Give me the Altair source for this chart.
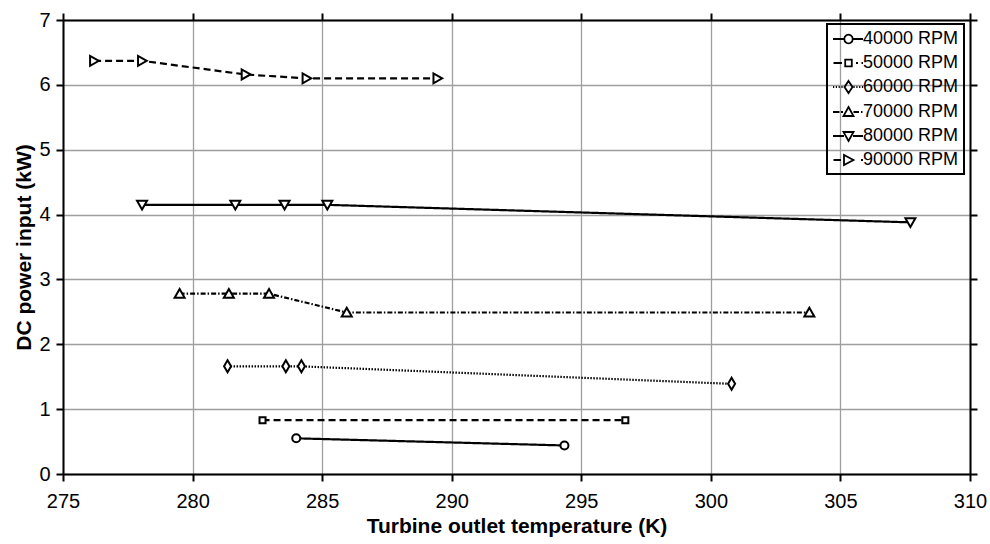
import altair as alt
import pandas as pd

FONT = "Liberation Sans"

# ---------------- data ----------------
series = ["40000 RPM", "50000 RPM", "60000 RPM", "70000 RPM", "80000 RPM", "90000 RPM"]

temp_40000 = [284.0, 294.35]
power_40000 = [0.55, 0.44]

temp_50000 = [282.7, 296.7]
power_50000 = [0.83, 0.83]

temp_60000 = [281.35, 283.6, 284.2, 300.8]
power_60000 = [1.66, 1.66, 1.66, 1.39]

temp_70000 = [279.5, 281.4, 282.95, 285.95, 303.8]
power_70000 = [2.78, 2.78, 2.78, 2.49, 2.49]

temp_80000 = [278.05, 281.65, 283.55, 285.2, 307.7]
power_80000 = [4.15, 4.15, 4.15, 4.15, 3.88]

temp_90000 = [276.2, 278.05, 282.05, 284.4, 289.45]
power_90000 = [6.37, 6.37, 6.16, 6.10, 6.10]

x_ticks = [275, 280, 285, 290, 295, 300, 305, 310]
y_ticks = [0, 1, 2, 3, 4, 5, 6, 7]

temps = [temp_40000, temp_50000, temp_60000, temp_70000, temp_80000, temp_90000]
powers = [power_40000, power_50000, power_60000, power_70000, power_80000, power_90000]

rows = []
for name, ts, ps in zip(series, temps, powers):
    for t, p in zip(ts, ps):
        rows.append({"series": name, "T": t, "P": p})
df = pd.DataFrame(rows)

# ---------------- styles ----------------
dashes = [[1, 0], [7, 4], [1.5, 1.5], [5, 2, 1.5, 2], [1, 0], [7, 4]]

# plot marker paths (unit square -1..1)
marker_paths = [
    "M0.8,0A0.8,0.8 0 1,1 -0.8,0A0.8,0.8 0 1,1 0.8,0Z",
    "M-0.6,-0.6H0.6V0.6H-0.6Z",
    "M0,-1.2L0.7,0L0,1.2L-0.7,0Z",
    "M0,-0.95L1,0.8L-1,0.8Z",
    "M0,0.95L1,-0.8L-1,-0.8Z",
    "M0.95,0L-0.8,-1L-0.8,1Z",
]

# legend symbols: line sample + marker, drawn as one path
LEG_SIZE = 324.0
U = (LEG_SIZE ** 0.5) / 2.0   # px per path unit
C = 6.5 / U                   # shift so the sample starts at the nominal left edge


def px(v):
    return f"{v / U + C:.3f}"


def py(v):
    return f"{v / U:.3f}"


def segs(pairs):
    return "".join(f"M{px(a)},0H{px(b)}" for a, b in pairs)


def poly(pts):
    return "M" + "L".join(f"{px(a)},{py(b)}" for a, b in pts) + "Z"


def circle(r):
    return (f"M{px(r)},0A{r / U:.3f},{r / U:.3f} 0 1,1 {px(-r)},0"
            f"A{r / U:.3f},{r / U:.3f} 0 1,1 {px(r)},0Z")


dots_l = [(-15.5 + 2.8 * i, -14.3 + 2.8 * i) for i in range(4)]
dots_r = [(5.0 + 2.8 * i, 6.2 + 2.8 * i) for i in range(4)]

legend_paths = [
    segs([(-15.5, -4.5), (4.5, 14.5)]) + circle(4.2),
    segs([(-15.0, -6.5), (7.5, 9.5), (13.0, 14.5)]) + poly([(-3.3, -3.3), (3.3, -3.3), (3.3, 3.3), (-3.3, 3.3)]),
    segs(dots_l + dots_r) + poly([(0, -6), (4, 0), (0, 6), (-4, 0)]),
    segs([(-15.5, -9.0), (-7.5, -5.5), (5.0, 10.5), (12.5, 14.0)]) + poly([(0, -5), (5, 4), (-5, 4)]),
    segs([(-15.5, -4.5), (4.5, 14.5)]) + poly([(0, 5), (5, -4), (-5, -4)]),
    segs([(-15.0, -7.5), (12.5, 14.5)]) + poly([(5, 0), (-4.5, -5), (-4.5, 5)]),
]

x_scale = alt.Scale(domain=[275, 310], nice=False, zero=False)
y_scale = alt.Scale(domain=[0, 7], nice=False, zero=False)

x_main = alt.Axis(title="Turbine outlet temperature (K)", values=x_ticks, grid=True,
                  labelPadding=10, titlePadding=4, labelFlush=False)
y_main = alt.Axis(title="DC power input (kW)", values=y_ticks, grid=True,
                  labelPadding=6, titlePadding=4)
x_top = alt.Axis(orient="top", values=x_ticks, labels=False, title=None, grid=False)
y_right = alt.Axis(orient="right", values=y_ticks, labels=False, title=None, grid=False)

base = alt.Chart(df)

frame = base.mark_point(opacity=0).encode(
    x=alt.X("T:Q", scale=x_scale, axis=x_top),
    y=alt.Y("P:Q", scale=y_scale, axis=y_right),
)

lines = base.mark_line(color="black", strokeWidth=2.2).encode(
    x=alt.X("T:Q", scale=x_scale, axis=x_main),
    y=alt.Y("P:Q", scale=y_scale, axis=y_main),
    strokeDash=alt.StrokeDash("series:N", scale=alt.Scale(domain=series, range=dashes), legend=None),
)

points = base.mark_point(filled=True, fill="white", stroke="black", strokeWidth=2,
                         size=100, opacity=1).encode(
    x=alt.X("T:Q", scale=x_scale, axis=None),
    y=alt.Y("P:Q", scale=y_scale, axis=None),
    shape=alt.Shape("series:N", scale=alt.Scale(domain=series, range=marker_paths), legend=None),
)

legend_layer = base.mark_point(filled=False, stroke="black", strokeWidth=1.8,
                               size=LEG_SIZE, opacity=1).encode(
    x=alt.X("T:Q", scale=x_scale, axis=None),
    y=alt.Y("P:Q", scale=y_scale, axis=None),
    shape=alt.Shape("series:N", scale=alt.Scale(domain=series, range=legend_paths),
                    legend=alt.Legend(title=None, orient="none", legendX=764, legendY=4,
                                      direction="vertical", strokeColor="black",
                                      padding=5, rowPadding=5, labelOffset=11,
                                      symbolSize=LEG_SIZE, symbolStrokeWidth=1.8,
                                      symbolStrokeColor="black")),
).transform_filter("false")

chart = alt.layer(frame, lines, points, legend_layer).resolve_scale(
    shape="independent"
).resolve_axis(
    x="independent", y="independent"
).properties(
    width=907, height=454,
    autosize=alt.AutoSizeParams(type="none"),
    padding={"left": 63, "top": 20, "right": 20, "bottom": 70},
    background="white",
).configure_view(
    stroke=None
).configure_axis(
    domainColor="black", domainWidth=2, tickColor="black", tickWidth=2, tickSize=7,
    labelFont=FONT, labelFontSize=20, labelColor="black",
    titleFont=FONT, titleFontSize=21, titleFontWeight="bold", titleColor="black",
    gridColor="#9e9e9e", gridWidth=1.3,
).configure_legend(
    labelFont=FONT, labelFontSize=18, labelColor="black", strokeWidth=2,
)

chart.save("out.html", embed_options={"renderer": "svg", "actions": False})
